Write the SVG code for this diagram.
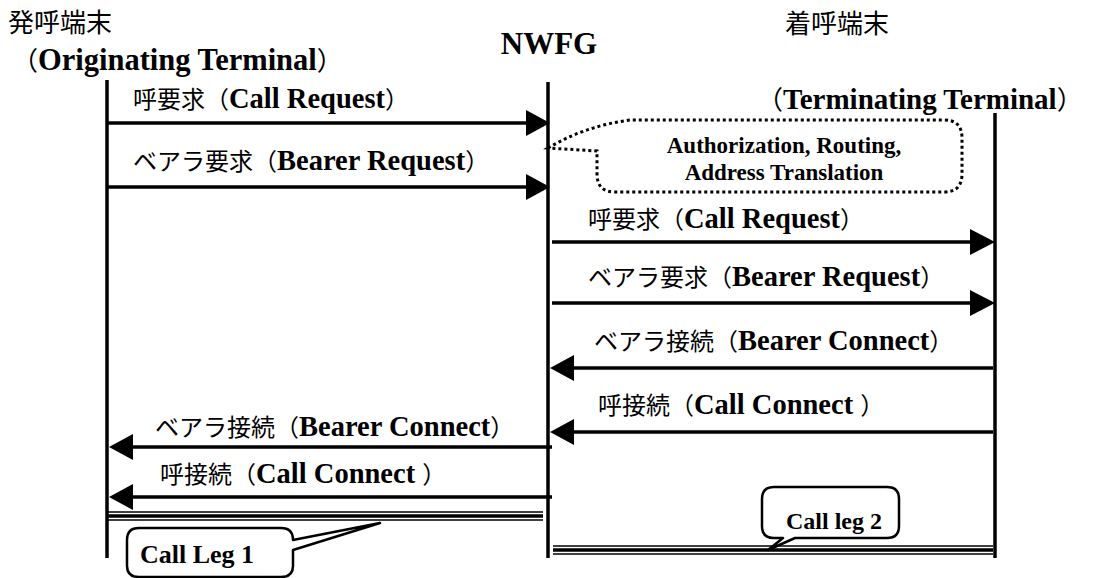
<svg xmlns="http://www.w3.org/2000/svg" width="1104" height="578" viewBox="0 0 1104 578">
<style>
.jp{font-family:"Noto Sans CJK JP","Noto Sans",sans-serif;font-weight:normal}
.en{font-family:"Liberation Serif","Noto Sans CJK JP",serif;font-weight:bold}
.lbl .jp{font-size:24px}
.lbl .en{font-size:28.5px}
.life{stroke:#000;stroke-width:3.5;fill:none}
.msg{stroke:#000;stroke-width:3.5;fill:none}
.head{fill:#000}
.thin{stroke:#000;stroke-width:1.3}
.thick{stroke:#000;stroke-width:3.5}
.callout{fill:#fff;stroke:#000;stroke-width:2.5;stroke-linejoin:round}
.dots{fill:#fff;stroke:#000;stroke-width:3;stroke-dasharray:3 3}
</style>
<rect width="1104" height="578" fill="#fff"/>

<g id="orig">
  <text x="8" y="32" class="jp" font-size="26">発呼端末</text>
  <text x="12" y="70"><tspan class="jp" font-size="26">（</tspan><tspan class="en" font-size="30.5">Originating Terminal</tspan><tspan class="jp" font-size="26">）</tspan></text>
  <line class="life" x1="107" y1="80" x2="107" y2="558"/>
</g>

<g id="nwfg">
  <text x="549" y="54" class="en" font-size="31" text-anchor="middle">NWFG</text>
  <line class="life" x1="548" y1="82" x2="548" y2="558"/>
</g>

<g id="term">
  <text x="785" y="33" class="jp" font-size="26">着呼端末</text>
  <text x="757" y="109"><tspan class="jp" font-size="26">（</tspan><tspan class="en" font-size="29">Terminating Terminal</tspan><tspan class="jp" font-size="26">）</tspan></text>
  <line class="life" x1="995" y1="113" x2="995" y2="558"/>
</g>

<g id="processing">
  <path class="dots" d="M548 148 Q585 126 630 120 L944 120 Q962 120 962 138 L962 174 Q962 192 944 192 L615 192 Q597 192 597 174 L597 151 Z"/>
  <text class="en" font-size="23" text-anchor="middle" x="784" y="153">Authorization, Routing,</text>
  <text class="en" font-size="23" text-anchor="middle" x="784" y="180">Address Translation</text>
</g>

<g id="connectors">
  <line class="msg" x1="107" y1="123" x2="530" y2="123"/>
  <polygon class="head" points="526,110 550,123 526,136"/>
  <text class="lbl" x="133" y="108"><tspan class="jp">呼要求（</tspan><tspan class="en">Call Request</tspan><tspan class="jp">）</tspan></text>

  <line class="msg" x1="107" y1="187" x2="530" y2="187"/>
  <polygon class="head" points="526,174 550,187 526,200"/>
  <text class="lbl" x="133" y="170"><tspan class="jp">ベアラ要求（</tspan><tspan class="en">Bearer Request</tspan><tspan class="jp">）</tspan></text>

  <line class="msg" x1="552" y1="242" x2="973" y2="242"/>
  <polygon class="head" points="970,229 995,242 970,255"/>
  <text class="lbl" x="588" y="228"><tspan class="jp">呼要求（</tspan><tspan class="en">Call Request</tspan><tspan class="jp">）</tspan></text>

  <line class="msg" x1="552" y1="303" x2="973" y2="303"/>
  <polygon class="head" points="970,290 995,303 970,316"/>
  <text class="lbl" x="588" y="286"><tspan class="jp">ベアラ要求（</tspan><tspan class="en">Bearer Request</tspan><tspan class="jp">）</tspan></text>

  <line class="msg" x1="993" y1="368" x2="570" y2="368"/>
  <polygon class="head" points="574,355 550,368 574,381"/>
  <text class="lbl" x="594" y="350"><tspan class="jp">ベアラ接続（</tspan><tspan class="en">Bearer Connect</tspan><tspan class="jp">）</tspan></text>

  <line class="msg" x1="993" y1="432" x2="570" y2="432"/>
  <polygon class="head" points="574,419 550,432 574,445"/>
  <text class="lbl" x="598" y="414"><tspan class="jp">呼接続（</tspan><tspan class="en">Call Connect </tspan><tspan class="jp">）</tspan></text>

  <line class="msg" x1="552" y1="447" x2="128" y2="447"/>
  <polygon class="head" points="133,434 109,447 133,460"/>
  <text class="lbl" x="155" y="436"><tspan class="jp">ベアラ接続（</tspan><tspan class="en">Bearer Connect</tspan><tspan class="jp">）</tspan></text>

  <line class="msg" x1="552" y1="497" x2="128" y2="497"/>
  <polygon class="head" points="133,484 109,497 133,510"/>
  <text class="lbl" x="160" y="483"><tspan class="jp">呼接続（</tspan><tspan class="en">Call Connect </tspan><tspan class="jp">）</tspan></text>
</g>

<g id="leg1">
  <line class="thin" x1="108" y1="512" x2="543" y2="512"/>
  <line class="thick" x1="108" y1="516" x2="543" y2="516"/>
  <line class="thin" x1="108" y1="520" x2="543" y2="520"/>
  <path class="callout" d="M139 528 L281 528 Q293 528 293 540 L380 523 L293 550 L293 566 Q293 577 281 577 L139 577 Q127 577 127 566 L127 540 Q127 528 139 528 Z"/>
  <text class="en" font-size="26" x="140" y="563">Call Leg 1</text>
</g>

<g id="leg2">
  <line class="thin" x1="553" y1="546" x2="993" y2="546"/>
  <line class="thick" x1="553" y1="550" x2="993" y2="550"/>
  <line class="thin" x1="553" y1="554" x2="993" y2="554"/>
  <path class="callout" d="M774 487 L887 487 Q899 487 899 499 L899 526 Q899 538 887 538 L795 538 L768 550 L783 538 L774 538 Q762 538 762 526 L762 499 Q762 487 774 487 Z"/>
  <text class="en" font-size="24" x="786" y="529">Call leg 2</text>
</g>
</svg>
